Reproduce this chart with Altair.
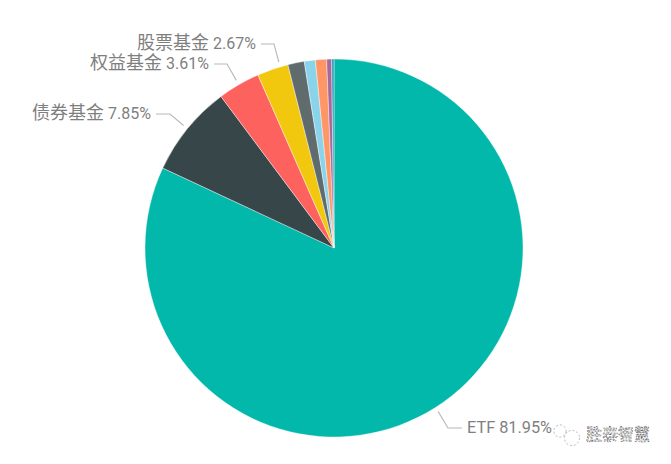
import math

import altair as alt
import pandas as pd

# ================== DATA ==================

funds = ["ETF", "债券基金", "权益基金", "股票基金", "其他1", "其他2", "其他3", "其他4", "其他5"]
shares = [81.95, 7.85, 3.61, 2.67, 1.40, 0.95, 0.95, 0.42, 0.20]
colors = ["#01b8aa", "#374649", "#fd625e", "#f2c80f", "#5f6b6d",
          "#8ad4eb", "#fe9666", "#a66999", "#3599b8"]

labelled = ["债券基金", "权益基金", "股票基金", "ETF"]
label_names = ["债券基金", "权益基金", "股票基金", "ETF"]
label_values = ["7.85%", "3.61%", "2.67%", "81.95%"]

# ================== LAYOUT (page pixels, minus the 8px margin) ==================

W, H = 655, 448
CX, CY = 326, 240
RADIUS = 189
GREY = "#7f7f7f"
FONT = "Roboto, Noto Sans CJK SC"
VALUE_WIDTH = 47  # room kept for the percent text next to the CJK name

elbow_x = [162, 219, 266, 440]
elbow_y = [106, 56, 36, 420]
tail_x = [148, 206, 253, 454]
anchor_nudge = [0, 0, 2.4, 0]  # degrees, the 股票基金 line sits off the slice middle

# ================== TABLES ==================

pie_df = pd.DataFrame({"fund": funds, "share": shares, "idx": range(len(funds))})

total = sum(shares)
starts = {}
running = 0
for fund, share in zip(funds, shares):
    starts[fund] = running + share / 2
    running += share

line_rows = []
value_rows = []
name_rows = []
right_rows = []
for i, fund in enumerate(labelled):
    angle = math.radians(starts[fund] / total * 360 + anchor_nudge[i])
    ax = CX + (RADIUS + 5) * math.sin(angle)
    ay = CY - (RADIUS + 5) * math.cos(angle)
    line_rows.append({"fund": fund, "step": 0, "px": ax, "py": ay})
    line_rows.append({"fund": fund, "step": 1, "px": elbow_x[i], "py": elbow_y[i]})
    line_rows.append({"fund": fund, "step": 2, "px": tail_x[i], "py": elbow_y[i]})
    if tail_x[i] < elbow_x[i]:
        value_rows.append({"label": label_values[i], "px": tail_x[i] - 5, "py": elbow_y[i]})
        name_rows.append({"label": label_names[i], "px": tail_x[i] - 5 - VALUE_WIDTH, "py": elbow_y[i]})
    else:
        right_rows.append({
            "label": label_names[i] + " " + label_values[i],
            "px": tail_x[i] + 5,
            "py": elbow_y[i],
        })

line_df = pd.DataFrame(line_rows)
value_df = pd.DataFrame(value_rows)
name_df = pd.DataFrame(name_rows)
right_df = pd.DataFrame(right_rows)

# ================== CHART ==================

pie = (
    alt.Chart(pie_df)
    .mark_arc(radius=RADIUS, stroke="white", strokeWidth=0.4)
    .encode(
        theta=alt.Theta("share:Q", stack=True),
        order=alt.Order("idx:Q"),
        color=alt.Color(
            "fund:N",
            scale=alt.Scale(domain=funds, range=colors),
            legend=None,
        ),
        x=alt.value(CX),
        y=alt.value(CY),
    )
)

leaders = (
    alt.Chart(line_df)
    .mark_line(color="#b8b8b8", strokeWidth=1.1)
    .encode(
        x=alt.X("px:Q", scale=None),
        y=alt.Y("py:Q", scale=None),
        detail="fund:N",
        order="step:Q",
    )
)


def text_layer(df, align, size, font=FONT):
    return (
        alt.Chart(df)
        .mark_text(align=align, baseline="middle", font=font, fontSize=size, color=GREY)
        .encode(x=alt.X("px:Q", scale=None), y=alt.Y("py:Q", scale=None), text="label:N")
    )


value_labels = text_layer(value_df, "right", 16)
name_labels = text_layer(name_df, "right", 18, "Noto Sans CJK SC")
right_labels = text_layer(right_df, "left", 16.3)

# watermark in the lower right corner
mark_df = pd.DataFrame({"px": [610], "py": [427], "label": ["胜泰智慧"]})
watermark = (
    alt.Chart(mark_df)
    .mark_text(
        align="center", baseline="middle", font="Noto Sans CJK SC", fontSize=16,
        color="white", stroke="#555555", strokeWidth=0.6, strokeDash=[2, 1],
    )
    .encode(x=alt.X("px:Q", scale=None), y=alt.Y("py:Q", scale=None), text="label:N")
)

bubble_df = pd.DataFrame({"px": [552, 564], "py": [423, 430], "size": [150, 230]})
bubbles = (
    alt.Chart(bubble_df)
    .mark_point(shape="circle", filled=False, color="#888888", strokeWidth=0.8, strokeDash=[2, 2])
    .encode(
        x=alt.X("px:Q", scale=None),
        y=alt.Y("py:Q", scale=None),
        size=alt.Size("size:Q", scale=None, legend=None),
    )
)

chart = (
    alt.layer(pie, leaders, value_labels, name_labels, right_labels, bubbles, watermark)
    .properties(
        width=W,
        height=H,
        padding=0,
        autosize=alt.AutoSizeParams(type="none"),
        background="white",
    )
    .configure_view(stroke=None)
)

chart.save("out.html", embed_options={"renderer": "svg", "actions": False})
